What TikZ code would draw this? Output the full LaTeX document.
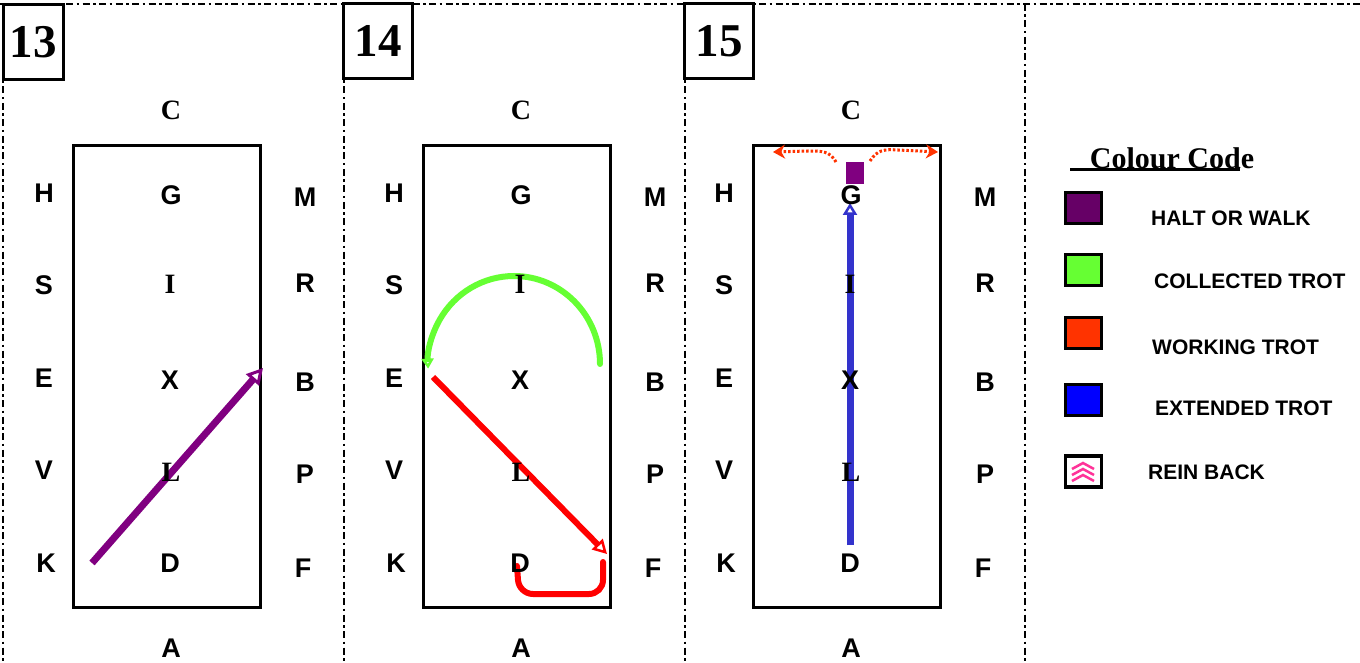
\documentclass[tikz,border=0pt]{standalone}
\usepackage{fontspec}
\setmainfont{Liberation Serif}
\newfontfamily\arialf{Liberation Sans}
\usetikzlibrary{arrows.meta}
\definecolor{purp}{HTML}{800080}
\definecolor{halt}{HTML}{660066}
\definecolor{coll}{HTML}{66FF33}
\definecolor{work}{HTML}{FF3300}
\definecolor{ext}{HTML}{0000FF}
\definecolor{extl}{HTML}{3333CC}
\definecolor{rein}{HTML}{FF3399}
\begin{document}
\begin{tikzpicture}[x=1pt,y=-1pt,
  frame/.style={line width=2.5pt, dash pattern=on 7pt off 3.5pt on 2.5pt off 3.5pt},
  numbox/.style={draw, line width=3pt, fill=white, font=\bfseries\fontsize{47}{47}\selectfont, inner sep=0pt, minimum height=75pt},
  sl/.style={font=\arialf\bfseries\fontsize{27}{27}\selectfont, inner sep=0pt},
  rl/.style={font=\bfseries\fontsize{28}{28}\selectfont, inner sep=0pt},
  arena/.style={draw, line width=3pt},
  purparrow/.style={draw=purp, line width=7pt, -{Triangle[open,length=16pt,width=17pt,line width=3pt]}},
  greenarrow/.style={draw=coll, line width=6pt, line cap=round, -{Triangle[open,length=10pt,width=12pt,line width=2.5pt]}},
  redarrow/.style={draw=red, line width=6pt, -{Triangle[open,length=14pt,width=15pt,line width=2.5pt]}},
  redpath/.style={draw=red, line width=6pt, line cap=round, rounded corners=14pt},
  bluearrow/.style={draw=extl, line width=7pt, -{Triangle[open,length=12pt,width=14pt,line width=2.5pt]}},
  orangedot/.style={draw=work, line width=3pt, dash pattern=on 2.5pt off 2pt, -{Stealth[length=12pt,width=14pt]}},
  legbox/.style={draw, line width=3.5pt, minimum width=36pt, minimum height=31pt, inner sep=0pt},
  legtxt/.style={font=\arialf\bfseries\fontsize{21}{21}\selectfont, inner sep=0pt, anchor=west}
]
\useasboundingbox (0,0) rectangle (1360,663);
\fill[white] (0,0) rectangle (1360,663);

% frame lines
\draw[frame] (0,4) -- (1360,4);
\draw[frame] (3,4) -- (3,663);
\draw[frame] (344,4) -- (344,663);
\draw[frame] (685,4) -- (685,663);
\draw[frame] (1025,4) -- (1025,663);

% number boxes
\node[numbox, minimum width=60pt] (n13) at (33,42) {13};
\node[numbox, minimum width=69pt] (n14) at (378,41) {14};
\node[numbox, minimum width=69pt] (n15) at (719,41) {15};

% arenas
\draw[arena] (73,146) rectangle (260,607);
\draw[arena] (423,146) rectangle (610,607);
\draw[arena] (753,146) rectangle (940,607);

% panel 13 movement
\coordinate (a13s) at (92,563);
\coordinate (a13e) at (263,368);
\draw[purparrow] (a13s) -- (a13e);

% panel 14 movements
\coordinate (g14s) at (600,364);
\draw[greenarrow] (g14s) arc[start angle=0, end angle=-183, x radius=86, y radius=88];
\coordinate (r14s) at (433,377);
\coordinate (r14e) at (607,554);
\draw[redarrow] (r14s) -- (r14e);
\coordinate (u1) at (517,566);
\coordinate (u2) at (519,594);
\coordinate (u3) at (603,594);
\coordinate (u4) at (603,562);
\draw[redpath] (u1) -- (u2) -- (u3) -- (u4);

% panel 15 movements
\coordinate (b15s) at (850,545);
\coordinate (b15e) at (850,203);
\draw[bluearrow] (b15s) -- (b15e);
\coordinate (o1) at (836,162);
\coordinate (o1e) at (773,152);
\coordinate (o2) at (870,161);
\coordinate (o2e) at (938,152);
\draw[orangedot] (o1) .. controls (830,151) and (822,151) .. (808,151) -- (o1e);
\draw[orangedot] (o2) .. controls (877,150) and (884,149) .. (898,150) -- (o2e);
\node[fill=purp, minimum width=18pt, minimum height=22pt, inner sep=0pt] (sq15) at (855,173) {};

% arena letters
\foreach \n/\o in {13/0,14/350,15/680}{
  \begin{scope}[xshift=\o pt]
    \node[rl] (C\n) at (171,110) {C};
    \node[sl] (A\n) at (171,648) {A};
    \node[sl] (H\n) at (44,193) {H};
    \node[sl] (S\n) at (44,285) {S};
    \node[sl] (E\n) at (44,378) {E};
    \node[sl] (V\n) at (44,470) {V};
    \node[sl] (K\n) at (46,563) {K};
    \node[sl] (M\n) at (305,197) {M};
    \node[sl] (R\n) at (305,283) {R};
    \node[sl] (B\n) at (305,382) {B};
    \node[sl] (P\n) at (305,474) {P};
    \node[sl] (F\n) at (303,568) {F};
    \node[sl] (G\n) at (171,195) {G};
    \node[rl] (I\n) at (170,284) {I};
    \node[sl] (X\n) at (170,380) {X};
    \node[rl] (L\n) at (171,472) {L};
    \node[sl] (D\n) at (170,563) {D};
  \end{scope}
}

% legend
\node[font=\bfseries\fontsize{30}{30}\selectfont, inner sep=0pt] (cc) at (1172,158) {Colour Code};
\draw[line width=3pt] (1070,170) -- (1240,170);
\node[legbox, fill=halt] (k1) at (1083.5,208) {};
\node[legbox, fill=coll] (k2) at (1083.5,270) {};
\node[legbox, fill=work] (k3) at (1083.5,333) {};
\node[legbox, fill=ext] (k4) at (1083.5,400) {};
\node[legbox, fill=white] (k5) at (1083.5,471.5) {};
\foreach \dy in {0,6,12}{
  \draw[rein, line width=2.5pt] (1072,469+\dy) -- (1083,463+\dy) -- (1094,469+\dy);
}
\node[legtxt] (t1) at (1151,218) {HALT OR WALK};
\node[legtxt] (t2) at (1154,281) {COLLECTED TROT};
\node[legtxt] (t3) at (1152,347) {WORKING TROT};
\node[legtxt] (t4) at (1155,408) {EXTENDED TROT};
\node[legtxt] (t5) at (1148,472) {REIN BACK};
\end{tikzpicture}
\end{document}
